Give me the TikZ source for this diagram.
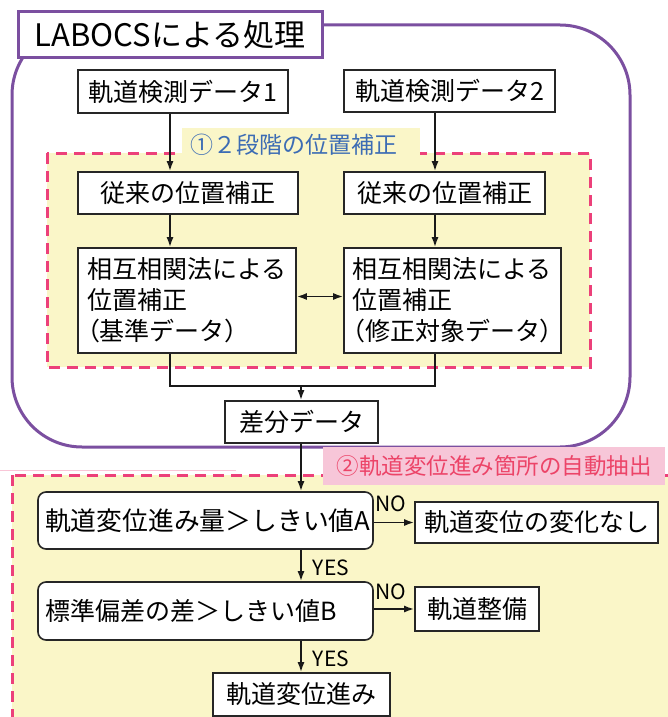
\documentclass[tikz,border=0pt]{standalone}
\usepackage{fontspec}
\setmainfont{Noto Sans CJK JP}
\newfontfamily\jpp[RawFeature=+palt]{Noto Sans CJK JP}
\usetikzlibrary{arrows.meta,calc}
\definecolor{lpurple}{RGB}{123,79,160}
\definecolor{dpink}{RGB}{236,64,122}
\definecolor{lyellow}{RGB}{250,246,200}
\definecolor{lblpink}{RGB}{247,198,216}
\definecolor{txtpink}{RGB}{236,68,104}
\definecolor{txtblue}{RGB}{60,108,180}
\begin{document}
\begin{tikzpicture}[x=1pt,y=-1pt,
 box/.style={draw=black!85, line width=1.6pt, fill=white, inner sep=0pt, font=\fontsize{25}{31}\selectfont},
 rbox/.style={box, rounded corners=8pt, inner xsep=7pt, inner ysep=0pt, align=left},
 arr/.style={draw=black!90, line width=1.8pt, -{Latex[length=10pt,width=7pt]}},
 darr/.style={draw=black!90, line width=1.8pt, {Latex[length=10pt,width=7pt]}-{Latex[length=10pt,width=7pt]}},
 ln/.style={draw=black!90, line width=1.8pt},
 yn/.style={font=\fontsize{21}{21}\selectfont, inner sep=0pt},
 region/.style={fill=lyellow, draw=dpink, line width=3pt, dash pattern=on 11pt off 7pt}
]
\useasboundingbox (0,0) rectangle (668,717);

% outer LABOCS frame
\draw[lpurple, line width=3pt, rounded corners=70pt] (12,25) rectangle (630,447);

% region 1
\path[region] (47,153) rectangle (590,367);
\fill[lyellow] (182,128) rectangle (420,160);
\node[text=txtblue, font=\fontsize{23}{23}\selectfont, anchor=west, inner sep=0pt] (lbl1) at (190,145) {①２段階の位置補正};

% region 2
\draw[dpink!30, line width=1pt] (0,470) -- (236,470);
\path[region] (12,475) rectangle (690,740);
\node[fill=lblpink, text=txtpink, minimum width=342pt, minimum height=38pt, inner sep=0pt,
      font=\fontsize{22.5}{22.5}\selectfont] (lbl2) at (494,466) {②軌道変位進み箇所の自動抽出};

% title
\node[draw=lpurple, line width=3pt, fill=white, minimum width=304pt, minimum height=46pt,
      inner sep=0pt, font=\fontsize{31}{31}\selectfont] (title) at (170,35) {LABOCSによる処理};

% boxes
\node[box, minimum width=210pt, minimum height=43pt] (d1) at (183,91.5) {軌道検測データ1};
\node[box, minimum width=211pt, minimum height=42pt] (d2) at (449.5,91) {軌道検測データ2};
\node[box, minimum width=220pt, minimum height=42pt] (j1) at (188,193) {従来の位置補正};
\node[box, minimum width=201pt, minimum height=42pt] (j2) at (444.5,193) {従来の位置補正};
\node[box, minimum width=218pt, minimum height=105pt, align=left] (s1) at (187,300.5)
  {相互相関法による\\位置補正\\{\jpp （}基準データ{\jpp ）}};
\node[box, minimum width=217pt, minimum height=105pt, align=left] (s2) at (452.5,300.5)
  {相互相関法による\\位置補正\\{\jpp （}修正対象データ{\jpp ）}};
\node[box, minimum width=153pt, minimum height=42pt] (diff) at (301.5,422) {差分データ};

\node[rbox, text width=321pt, minimum height=57pt, font=\fontsize{25.8}{31}\selectfont] (A) at (205.5,520.5) {軌道変位進み量＞しきい値A};
\node[box, minimum width=243pt, minimum height=41pt] (noA) at (536.5,522.5) {軌道変位の変化なし};
\node[rbox, text width=321pt, minimum height=58pt] (B) at (205.5,611) {標準偏差の差＞しきい値B};
\node[box, minimum width=124pt, minimum height=44pt] (seibi) at (477,609) {軌道整備};
\node[box, minimum width=177pt, minimum height=43pt] (fin) at (301.5,694.5) {軌道変位進み};

% connectors
\coordinate (xl) at (170,0);
\coordinate (xr) at (435,0);
\coordinate (jn) at (301,386);
\draw[arr] (d1.south -| xl) -- (j1.north -| xl);
\draw[arr] (j1.south -| xl) -- (s1.north -| xl);
\draw[arr] (d2.south -| xr) -- (j2.north -| xr);
\draw[arr] (j2.south -| xr) -- (s2.north -| xr);
\draw[darr] ($(s1.east)+(0,-4)$) -- ($(s2.west)+(0,-4)$);
\draw[ln] (s1.south -| xl) |- (jn) -| (s2.south -| xr);
\draw[arr] (jn) -- (diff.north -| jn);
\draw[arr] (diff.south -| jn) -- (A.north -| jn);
\draw[arr] (A.east |- noA.west) -- (noA.west);
\node[yn] (no1) at (391,504) {NO};
\draw[arr] (A.south -| jn) -- (B.north -| jn);
\node[yn] (yes1) at (331,568) {YES};
\draw[arr] (B.east |- seibi.west) -- (seibi.west);
\node[yn] (no2) at (391,592) {NO};
\draw[arr] (B.south -| jn) -- (fin.north -| jn);
\node[yn] (yes2) at (331,659) {YES};
\end{tikzpicture}
\end{document}
